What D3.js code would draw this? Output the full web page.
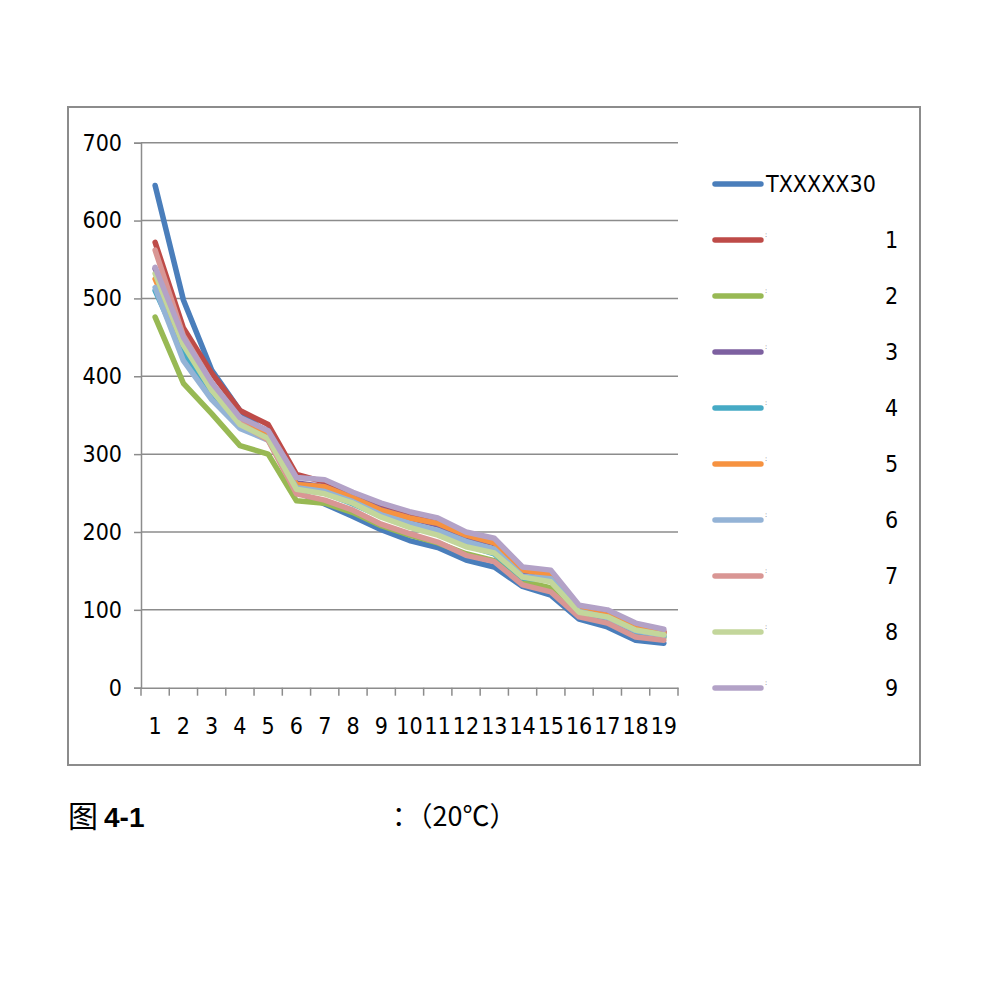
<!DOCTYPE html>
<html>
<head>
<meta charset="utf-8">
<script src="https://cdn.jsdelivr.net/npm/d3@7"></script>
<style>
  body { margin: 0; background: #fff; }
  text { font-family: "Liberation Sans Narrow", "DejaVu Sans Condensed", sans-serif; fill: #000; }
</style>
</head>
<body>
<div id="chart"></div>
<script>
var categories = ["1","2","3","4","5","6","7","8","9","10","11","12","13","14","15","16","17","18","19"];
var seriesNames = ["TXXXXX30","1","2","3","4","5","6","7","8","9"];
var seriesColors = ["#4a7ebb","#be4b48","#98b954","#7d60a0","#46aac5","#f69240","#94b3d6","#d99694","#c3d69b","#b3a2c7"];
var yTicks = [0,100,200,300,400,500,600,700];

var s0 = [645,498,408,356,325,252,236,220,203,189,180,164,155,130,119,88,78,61,57];
var s1 = [572,462,404,356,338,274,264,249,234,223,214,199,190,152,148,104,97,80,72];
var s2 = [476,391,352,311,300,240,237,225,208,196,186,172,163,137,128,95,88,70,64];
var s3 = [538,448,390,345,330,263,258,244,229,218,209,193,185,148,143,101,94,78,70];
var s4 = [510,430,378,338,322,255,250,236,220,208,198,183,172,141,138,97,89,72,66];
var s5 = [525,442,386,343,328,261,258,244,228,218,211,196,186,151,145,100,93,76,70];
var s6 = [514,420,370,333,318,257,252,239,222,211,202,188,178,143,140,98,90,73,67];
var s7 = [562,452,392,340,318,249,241,228,210,198,187,170,162,132,123,91,83,65,61];
var s8 = [532,440,382,338,320,255,249,237,219,206,196,181,173,142,136,97,91,74,68];
var s9 = [540,450,392,347,330,270,267,251,237,226,218,200,192,155,151,106,100,83,75];
var allSeries = [s0,s1,s2,s3,s4,s5,s6,s7,s8,s9];

var svg = d3.select("#chart").append("svg")
    .attr("width", 1000)
    .attr("height", 1000);

// outer chart frame
svg.append("rect")
    .attr("x", 68).attr("y", 107)
    .attr("width", 852).attr("height", 658)
    .attr("fill", "none")
    .attr("stroke", "#8c8c8c")
    .attr("stroke-width", 2);

var plotLeft = 141, plotRight = 678, plotTop = 142.7, plotBottom = 687.7;

var x = d3.scaleBand()
    .domain(categories)
    .range([plotLeft, plotRight]);

var y = d3.scaleLinear()
    .domain([0, 700])
    .range([plotBottom, plotTop]);

// gridlines
svg.append("g")
    .selectAll("line")
    .data(yTicks.filter(function(d) { return d > 0; }))
    .join("line")
    .attr("x1", plotLeft).attr("x2", plotRight)
    .attr("y1", function(d) { return y(d); })
    .attr("y2", function(d) { return y(d); })
    .attr("stroke", "#8c8c8c")
    .attr("stroke-width", 1.5);

// y axis
var yAxis = svg.append("g")
    .attr("transform", "translate(" + plotLeft + ",0)")
    .call(d3.axisLeft(y).tickValues(yTicks).tickSize(7).tickPadding(12));
yAxis.selectAll("line, path").attr("stroke", "#8c8c8c").attr("stroke-width", 1.5);
yAxis.selectAll("text")
    .style("font-family", "'Liberation Sans Narrow', 'DejaVu Sans Condensed', sans-serif")
    .style("font-size", "23px");

// x axis
var xAxis = svg.append("g")
    .attr("transform", "translate(0," + plotBottom + ")")
    .call(d3.axisBottom(x).tickSize(0).tickPadding(30));
xAxis.select("path").attr("stroke", "#8c8c8c").attr("stroke-width", 1.5);
xAxis.selectAll("text")
    .style("font-family", "'Liberation Sans Narrow', 'DejaVu Sans Condensed', sans-serif")
    .style("font-size", "23px");

// category boundary tick marks
var bounds = categories.map(function(c) { return x(c); }).concat([plotRight]);
svg.append("g")
    .selectAll("line")
    .data(bounds)
    .join("line")
    .attr("x1", function(d) { return d; })
    .attr("x2", function(d) { return d; })
    .attr("y1", plotBottom).attr("y2", plotBottom + 8)
    .attr("stroke", "#8c8c8c")
    .attr("stroke-width", 1.5);

var line = d3.line()
    .x(function(d, i) { return x(categories[i]) + x.bandwidth() / 2; })
    .y(function(d) { return y(d); });

svg.append("g")
    .selectAll("path")
    .data(allSeries)
    .join("path")
    .attr("d", function(d) { return line(d); })
    .attr("fill", "none")
    .attr("stroke", function(d, i) { return seriesColors[i]; })
    .attr("stroke-width", 5.5)
    .attr("stroke-linejoin", "round")
    .attr("stroke-linecap", "round");

// legend
var legendY = d3.scalePoint()
    .domain(seriesNames)
    .range([184, 688]);

var legend = svg.append("g")
    .selectAll("g")
    .data(seriesNames)
    .join("g")
    .attr("transform", function(d) { return "translate(0," + legendY(d) + ")"; });

legend.append("line")
    .attr("x1", 715).attr("x2", 761)
    .attr("stroke", function(d, i) { return seriesColors[i]; })
    .attr("stroke-width", 5.5)
    .attr("stroke-linecap", "round");

legend.append("text")
    .attr("x", function(d, i) { return i === 0 ? 766 : 885; })
    .attr("y", 8)
    .style("font-size", "23px")
    .text(function(d) { return d; });

legend.filter(function(d, i) { return i > 0; })
    .append("text")
    .attr("x", 765)
    .attr("y", -3)
    .style("font-size", "7px")
    .style("fill", "#555")
    .text(":");

// caption
svg.append("text")
    .attr("x", 68).attr("y", 827)
    .style("font-family", "'Noto Sans CJK SC', sans-serif")
    .style("font-size", "30px")
    .text("图");
svg.append("text")
    .attr("x", 104).attr("y", 827)
    .style("font-family", "'Liberation Sans Narrow', sans-serif")
    .style("font-weight", "bold")
    .style("font-size", "28px")
    .text("4-1");
svg.append("text")
    .attr("x", 392).attr("y", 826)
    .style("font-family", "'Noto Sans CJK SC', sans-serif")
    .style("font-size", "27px")
    .text("：（20℃）");
</script>
</body>
</html>
